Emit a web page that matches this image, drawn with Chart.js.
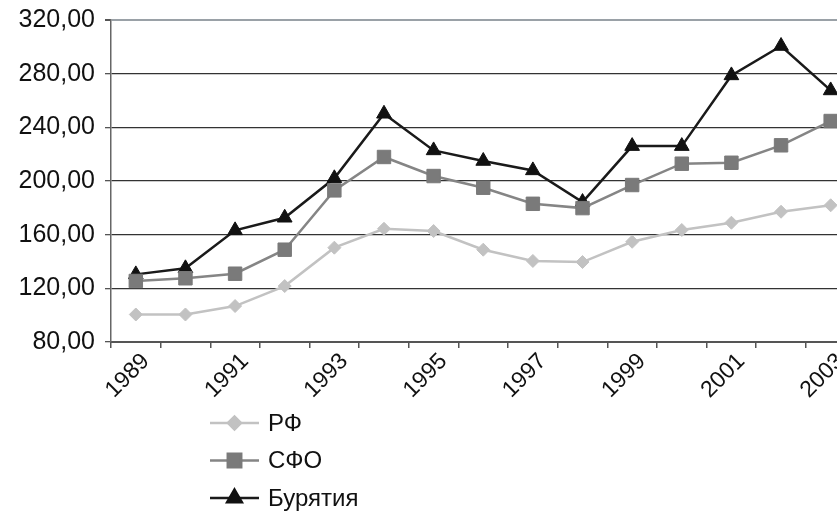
<!DOCTYPE html>
<html>
<head>
<meta charset="utf-8">
<script src="https://cdn.jsdelivr.net/npm/chart.js@4"></script>
<style>
  html, body { margin: 0; padding: 0; background: #fff; overflow: hidden; }
  #wrap { width: 866px; height: 517px; margin-top: -5px; }
</style>
</head>
<body>
<div id="wrap"><canvas id="chart"></canvas></div>
<script>
/* Data */
let years = ['1989', '1990', '1991', '1992', '1993', '1994', '1995', '1996',
             '1997', '1998', '1999', '2000', '2001', '2002', '2003']
let rfValues = [100.5, 100.5, 106.8, 121.7, 150.3, 164.4, 162.7, 148.8, 140.4, 139.6, 154.7, 163.5, 168.9, 177.1, 181.9]
let sfoValues = [125.5, 127.5, 130.9, 148.8, 193.0, 217.9, 203.7, 195.0, 183.0, 179.8, 197.0, 212.9, 213.6, 226.6, 244.7]
let buryatiaValues = [130.4, 134.9, 163.2, 172.6, 202.0, 250.1, 222.8, 214.9, 207.9, 184.3, 226.0, 226.0, 278.7, 300.6, 267.5]
let seriesNames = ['РФ', 'СФО', 'Бурятия']
let yTicks = [80, 120, 160, 200, 240, 280, 320]

const fontFamily = '"Liberation Sans", Arial, sans-serif'

// Vertical legend under the axis: line sample with the marker in its middle
const stackedLegend = {
    id: 'stackedLegend',
    afterDraw(chart) {
        let ctx = chart.ctx
        let startX = 210
        let startY = 428
        let gap = 37.5
        chart.data.datasets.forEach(function (ds, i) {
            let y = startY + i * gap
            ctx.save()
            ctx.strokeStyle = ds.borderColor
            ctx.lineWidth = ds.borderWidth
            ctx.beginPath()
            ctx.moveTo(startX, y)
            ctx.lineTo(startX + 49, y)
            ctx.stroke()
            ctx.fillStyle = ds.pointBackgroundColor
            ctx.strokeStyle = ds.pointBorderColor
            Chart.helpers.drawPoint(ctx, {
                pointStyle: ds.pointStyle,
                radius: ds.pointRadius,
                borderWidth: ds.pointBorderWidth,
                rotation: 0
            }, startX + 24.5, y)
            ctx.fillStyle = '#111'
            ctx.font = '24px ' + fontFamily
            ctx.textBaseline = 'middle'
            ctx.textAlign = 'left'
            ctx.fillText(ds.label, startX + 58, y + 1)
            ctx.restore()
        })
    }
}

let ctx = document.querySelector('#chart').getContext('2d')

let chart = new Chart(ctx, {
    type: 'line',
    data: {
        labels: years,
        datasets: [
            {
                label: seriesNames[0],
                data: rfValues,
                borderColor: '#c2c2c2',
                borderWidth: 2.5,
                pointStyle: 'rectRot',
                pointRadius: 6.5,
                pointBackgroundColor: '#c2c2c2',
                pointBorderColor: '#c2c2c2',
                pointBorderWidth: 1
            },
            {
                label: seriesNames[1],
                data: sfoValues,
                borderColor: '#858585',
                borderWidth: 2.5,
                pointStyle: 'rect',
                pointRadius: 9.5,
                pointBackgroundColor: '#7a7a7a',
                pointBorderColor: '#7a7a7a',
                pointBorderWidth: 1
            },
            {
                label: seriesNames[2],
                data: buryatiaValues,
                borderColor: '#1a1a1a',
                borderWidth: 2.5,
                pointStyle: 'triangle',
                pointRadius: 8.5,
                pointBackgroundColor: '#111',
                pointBorderColor: '#111',
                pointBorderWidth: 1
            }
        ]
    },
    options: {
        responsive: true,
        maintainAspectRatio: false,
        animation: false,
        layout: { padding: { top: 0, right: 1, left: 0, bottom: 110 } },
        plugins: {
            legend: { display: false },
            tooltip: { enabled: false }
        },
        scales: {
            x: {
                offset: true,
                grid: {
                    offset: true,
                    drawOnChartArea: false,
                    drawTicks: true,
                    tickLength: 6,
                    color: '#555',
                    lineWidth: 1.5
                },
                border: { color: '#555', width: 2 },
                ticks: {
                    autoSkip: false,
                    maxRotation: 45,
                    minRotation: 45,
                    padding: 0,
                    labelOffset: 10,
                    color: '#111',
                    font: { family: fontFamily, size: 23 },
                    callback: function (value, index) {
                        return index % 2 === 0 ? years[index] : ''
                    }
                },
                afterFit: function (scale) { scale.height = 60 }
            },
            y: {
                min: yTicks[0],
                max: yTicks[yTicks.length - 1],
                afterBuildTicks: function (scale) {
                    scale.ticks = yTicks.map(v => ({ value: v }))
                },
                grid: {
                    color: c => (c.tick && c.tick.value === 320) ? '#9aa1a7' : '#333',
                    lineWidth: c => (c.tick && c.tick.value === 320) ? 2 : 1.3,
                    tickLength: 6,
                    tickColor: '#555'
                },
                border: { color: '#666', width: 1.5 },
                ticks: {
                    padding: 10,
                    color: '#111',
                    font: { family: fontFamily, size: 25 },
                    callback: v => v.toFixed(2).replace('.', ',')
                },
                afterFit: function (scale) { scale.width = 111 }
            }
        }
    },
    plugins: [stackedLegend]
})
</script>
</body>
</html>
